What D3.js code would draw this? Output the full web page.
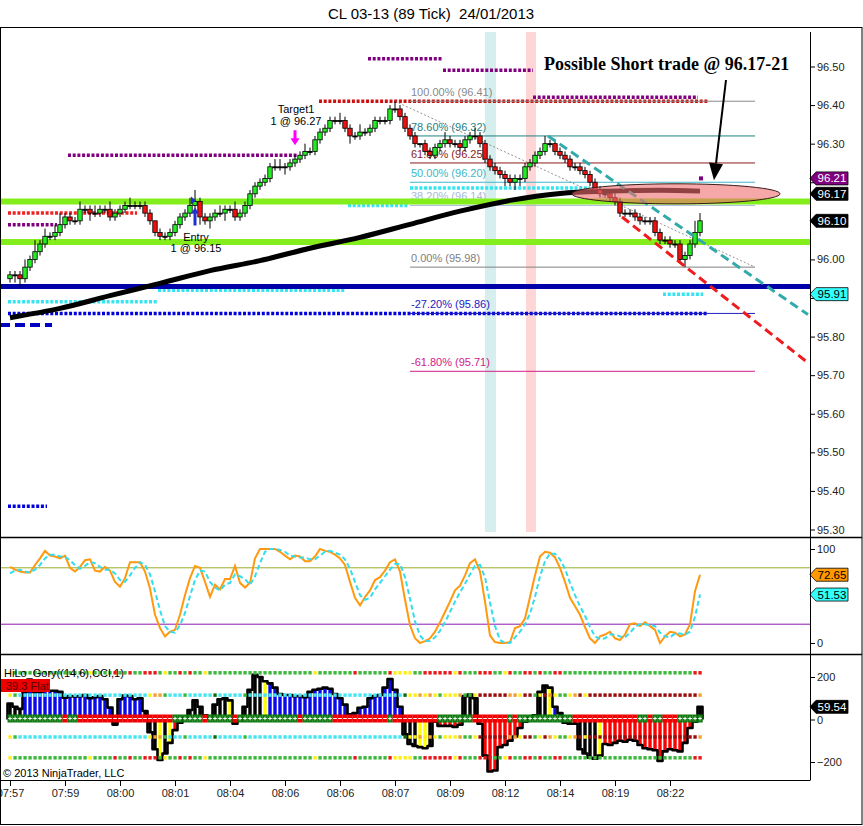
<!DOCTYPE html>
<html>
<head>
<meta charset="utf-8">
<script src="https://cdnjs.cloudflare.com/ajax/libs/d3/7.8.5/d3.min.js"></script>
<style>
  body { margin: 0; background: #fff; }
  svg { display: block; font-family: "Liberation Sans", Arial, sans-serif; }
</style>
</head>
<body>
<svg id="chart"></svg>
<script>
// ---- data ----
// closes per 89-tick bar (open = previous close)
const firstOpen = 95.95;
const closes = [
  95.96,95.96,95.95,95.98,96.00,96.02,96.04,96.06,96.06,96.07,
  96.09,96.11,96.10,96.10,96.13,96.13,96.12,96.12,96.13,96.13,
  96.11,96.12,96.13,96.14,96.14,96.14,96.14,96.12,96.10,96.07,
  96.06,96.06,96.07,96.09,96.11,96.12,96.14,96.15,96.11,96.10,
  96.11,96.12,96.12,96.13,96.13,96.11,96.12,96.14,96.17,96.19,
  96.20,96.21,96.24,96.24,96.24,96.24,96.25,96.26,96.27,96.28,
  96.28,96.31,96.33,96.34,96.36,96.36,96.36,96.34,96.32,96.32,
  96.33,96.33,96.34,96.36,96.36,96.36,96.39,96.39,96.37,96.34,
  96.32,96.30,96.30,96.28,96.27,96.29,96.30,96.31,96.30,96.30,
  96.29,96.31,96.32,96.32,96.30,96.26,96.24,96.23,96.22,96.21,
  96.20,96.21,96.21,96.24,96.25,96.27,96.28,96.30,96.30,96.28,
  96.27,96.26,96.24,96.24,96.23,96.22,96.20,96.18,96.17,96.17,
  96.16,96.15,96.12,96.12,96.12,96.11,96.10,96.10,96.10,96.07,
  96.05,96.05,96.04,96.04,96.00,96.01,96.04,96.07,96.10
];
// wick lengths in ticks (0.01) above / below the body
const wickUp = [
  1,1,1,2,1,3,1,2,1,2, 3,1,1,1,2,1,1,2,1,1, 2,1,1,1,2,1,1,1,1,0,
  1,1,1,1,1,1,2,3,1,1, 1,1,2,1,1,2,1,1,1,1, 1,1,1,2,2,1,1,1,1,2,
  1,1,1,1,1,1,2,1,1,1, 2,1,1,1,1,1,1,2,1,1, 1,1,0,1,1,1,1,2,1,1,
  1,1,1,2,1,1,1,1,1,1, 1,1,1,1,1,1,1,2,1,1, 1,1,1,1,1,1,1,1,1,1,
  1,2,1,1,1,1,1,1,1,1, 1,1,1,1,1,1,1,3,2
];
const wickDn = [
  1,2,2,1,1,1,1,1,1,1, 1,1,1,1,1,1,2,1,1,1, 1,1,1,1,1,1,1,1,1,1,
  1,1,1,1,1,1,1,1,2,1, 2,1,1,2,1,1,1,1,1,1, 1,1,1,1,1,2,1,1,1,1,
  1,1,1,1,1,1,1,1,2,1, 1,1,1,1,1,1,1,1,1,1, 1,1,1,1,1,1,1,1,1,1,
  1,1,1,1,1,1,1,1,1,2, 1,2,2,1,1,1,1,1,1,1, 1,1,1,1,1,1,1,1,1,1,
  1,1,1,1,1,1,1,1,1,1, 1,1,1,1,1,2,1,1,1
];
// moving average (black line) knots
const maBars = [0,10,20,30,40,50,60,70,80,90,100,110,120,130,138];
const maValues = [95.849,95.873,95.906,95.938,95.971,95.997,96.029,96.057,96.091,96.125,96.153,96.171,96.177,96.179,96.177];

const timeTickBars = [0,11,22,33,44,55,66,77,88,99,110,121,132];
const timeLabels = ["07:57","07:59","08:00","08:01","08:04","08:06","08:06","08:07","08:09","08:12","08:14","08:19","08:22"];
const priceTicks = [95.3,95.4,95.5,95.6,95.7,95.8,95.9,96.0,96.1,96.2,96.3,96.4,96.5];

// stochastics
const stochK = [
  81,78,76,75,75,83,90,98,93,92, 90,93,80,76,81,88,89,77,76,81,
  77,65,60,69,86,86,86,76,58,30, 16,7,12,14,30,51,69,82,80,65,
  49,62,57,68,68,82,64,59,64,90, 100,100,100,100,97,93,89,93,92,87,
  87,92,100,98,97,94,90,83,65,48, 40,49,56,67,70,77,86,89,76,46,
  19,5,0,2,5,12,22,33,44,56, 61,72,85,89,76,44,8,1,0,0,
  1,16,18,26,49,72,92,97,96,91, 80,65,48,39,30,17,5,0,7,9,
  12,5,3,9,20,21,18,22,18,14, 0,7,12,11,7,9,20,55,72.65
];
const stochD = [
  74,77,78,76,75,78,83,90,94,94, 92,92,88,83,79,82,86,85,81,78,
  78,74,67,65,72,80,86,83,73,55, 35,18,12,11,19,32,50,67,77,76,
  65,59,56,62,64,73,71,68,62,71, 85,97,100,100,99,97,93,92,91,91,
  89,89,93,97,98,96,94,89,79,65, 51,46,48,57,64,71,78,84,84,70,
  47,23,8,2,2,6,13,22,33,44, 54,63,73,82,83,70,43,18,3,0,
  0,6,12,20,31,49,71,87,95,95, 89,79,64,51,39,29,17,7,4,5,
  9,9,7,6,11,17,20,20,19,18, 11,7,6,10,10,9,12,28,51.53
];
const stochLevels = [80, 20];

// CCI histogram
const cciValues = [
  75,60,50,130,135,130,130,135,135,135, 130,103,110,108,110,115,100,105,110,95,
  56,-24,95,113,110,95,100,40,-60,-140, -190,-160,-110,-50,-15,10,45,90,60,20,
  5,70,95,100,90,-20,-5,60,140,210, 200,180,170,150,120,115,115,110,110,105,
  130,140,145,150,145,120,100,70,25,30, 55,60,100,110,115,150,190,140,60,-70,
  -115,-125,-130,-135,-125,-10,-30,-30,-30,-35, -25,110,118,100,-20,-170,-245,-240,-130,-120,
  -100,-80,-40,-10,10,20,130,160,150,60, 30,-15,-20,-20,-140,-160,-180,-185,-170,-115,
  -120,-110,-100,-105,-95,-100,-120,-135,-140,-145, -195,-150,-140,-145,-150,-110,-40,-10,59.54
];
const cciColors = ("kkkbbbbbbb" + "bbbbbbbbbb" + "bkbbbbbkkk" + "ykyrrkkkkk" + "kkkkyrkkkk" +
  "kybbbbbbbb" + "bbbbbbbbbb" + "bbbbbbbbbk" + "kkyykrrrrr" + "rkkkrrrrrr" +
  "rrrkkkkkyb" + "kkkkkkkkyr" + "rrrrrrrrrr" + "rrrrrrrrk").split("");
const zeroBand = ("++++++++++" + "+-++------" + "----------" + "---++++++-" + "+++++-++++" +
  "++++++++-+" + "+++++-----" + "------+---" + "------++++" + "+++-------" +
  "+-++++++++" + "+++-------" + "------++-+" + "+---+++++").split("");
const dotLevels = [220, 115, -82, -180];
const dotRowOuter = ("yggggggggg" + "ggggggyggg" + "grggrggrrr" + "gyggrgrggy" + "gggggggggg" +
  "gggggggggg" + "gygggggggr" + "ggggggryyy" + "yggrrrrrry" + "rgggrrrggy" +
  "rggrrgrggr" + "rggggggggg" + "gggggggggg" + "gggggggrr").split("");
const dotRowInner = ("ygcccccccc" + "cccccccccc" + "ccccccccyo" + "ogcccgcccc" + "cdcccccgcc" +
  "cccccccccc" + "cccccccccc" + "cccccccccd" + "yyoyoygyyy" + "oggymmmmmm" +
  "ooymmgymoy" + "ggyomymmmm" + "mmmmmmmmmm" + "mmmmmmmmo").split("");

// dotted price levels: price, first bar, last bar, kind
const levelPrice = [96.12, 96.09, 96.27, 96.41, 96.52, 96.49, 96.42, 95.89, 95.92, 96.14, 96.185, 95.91, 95.86, 95.36];
const levelFrom  = [-0.4, -0.4, 11.6, 61.8, 71.6, 86.6, 104.6, -0.4, 29.6, 67.6, 80, 130.6, -0.4, -0.4];
const levelTo    = [25.4, 9.4, 57.4, 139.6, 86.6, 104.6, 137.6, 29.6, 67, 79.6, 116, 138.6, 139.6, 7.4];
const levelKind  = ["red","purple","purple","crimson","purple","purple","purple","cyan","cyan","cyan","cyan","cyan","blue","blue"];

// fibonacci tool
const fibPct   = ["100.00%","78.60%","61.80%","50.00%","38.20%","0.00%","-27.20%","-61.80%"];
const fibPrice = [96.41, 96.32, 96.25, 96.20, 96.14, 95.98, 95.86, 95.71];
const fibBars  = [80, 149];
const fibDiag  = [[77, 96.41], [149, 95.98]];

// solid horizontal lines
const limeLevels = [96.15, 96.045];
const blueLevel = 95.93;
const blueDash = { price: 95.83, to: 8.4 };

// trend lines, shading, annotations
const tealTrend = [[107.6, 96.32], [159.6, 95.857]];
const redTrend  = [[122.4, 96.11], [159.6, 95.732]];
const shadeBars = [[95, 97.2], [103.2, 105.2]];
const ellipseBars = [112.4, 154];
const ellipsePrices = [96.144, 96.196];
const arrowFrom = [143.2, 96.465], arrowTo = [140.8, 96.205];
const noteAt = [106.8, 96.49];
const noteText = "Possible Short trade @ 96.17-21";
const entry = { bar: 37, price: 96.15, label: "Entry", fill: "1 @ 96.15" };
const target = { bar: 57, price: 96.27, label: "Target1", fill: "1 @ 96.27" };
const purpleDot = [138.2, 96.21];

// right-axis value tags
const priceTags = [[96.21, "#800080", "#fff"], [96.17, "#000", "#fff"], [96.10, "#000", "#fff"], [95.91, "#33ffff", "#000"]];
const stochTags = [[72.65, "#ff9900", "#000"], [51.53, "#33ffff", "#000"]];
const cciTags = [[59.54, "#000", "#fff"]];

// ---- drawing ----
const W = 863, H = 826, plotR = 810;
const svg = d3.select("#chart").attr("width", W).attr("height", H);

const x = d3.scaleLinear().domain([0, closes.length - 1]).range([10, 700]);
const yP = d3.scaleLinear().domain([95.3, 96.5]).range([529.5, 66.5]);
const yS = d3.scaleLinear().domain([0, 100]).range([643, 549]);
const yC = d3.scaleLinear().domain([-200, 200]).range([762, 677]);

const defs = svg.append("defs");
[["clipMain", 28, 537], ["clipStoch", 538, 654], ["clipCci", 655, 780]].forEach(([id, t, b]) => {
  defs.append("clipPath").attr("id", id).append("rect")
    .attr("x", 1).attr("y", t).attr("width", plotR - 1).attr("height", b - t);
});

// title
svg.append("text")
  .attr("x", 431).attr("y", 19)
  .attr("text-anchor", "middle")
  .attr("font-size", 15)
  .style("white-space", "pre")
  .text("CL 03-13 (89 Tick)  24/01/2013");

// ---- price panel ----
const g = svg.append("g").attr("clip-path", "url(#clipMain)");

g.selectAll("rect.shade")
  .data(shadeBars)
  .join("rect")
  .attr("x", d => x(d[0])).attr("width", d => x(d[1]) - x(d[0]))
  .attr("y", 32).attr("height", 500)
  .attr("fill", (d, i) => i === 0 ? "#d6eeee" : "#ffd6d6");

const levelColor = { red: "#ee2020", purple: "#800080", crimson: "#cc1010", cyan: "#33e5f0", blue: "#0000dd" };
g.selectAll("line.lvl")
  .data(levelPrice)
  .join("line")
  .attr("x1", (d, i) => x(levelFrom[i])).attr("x2", (d, i) => x(levelTo[i]))
  .attr("y1", d => yP(d)).attr("y2", d => yP(d))
  .attr("stroke", (d, i) => levelColor[levelKind[i]])
  .attr("stroke-width", 3.5)
  .attr("stroke-dasharray", "3,1.7");

// fib lines + labels
const fibColors = ["#8a8a8a", "#1f8080", "#8b1a1a", "#40b8c8", "#a8b8d8", "#808080", "#2020c0", "#d0208a"];
g.selectAll("line.fib")
  .data(fibPrice)
  .join("line")
  .attr("x1", x(fibBars[0])).attr("x2", x(fibBars[1]))
  .attr("y1", d => yP(d)).attr("y2", d => yP(d))
  .attr("stroke", (d, i) => fibColors[i]).attr("stroke-width", 1);
g.selectAll("text.fib")
  .data(fibPrice)
  .join("text")
  .attr("x", x(fibBars[0]) + 1).attr("y", d => yP(d) - 5)
  .attr("font-size", 11)
  .attr("fill", (d, i) => fibColors[i])
  .text((d, i) => `${fibPct[i]} (${d.toFixed(2)})`);

g.append("line")
  .attr("x1", x(fibDiag[0][0])).attr("y1", yP(fibDiag[0][1]))
  .attr("x2", x(fibDiag[1][0])).attr("y2", yP(fibDiag[1][1]))
  .attr("stroke", "#777").attr("stroke-width", 0.8).attr("stroke-dasharray", "2,2");

// thick horizontal lines
g.selectAll("line.lime")
  .data(limeLevels)
  .join("line")
  .attr("x1", 0).attr("x2", plotR)
  .attr("y1", d => yP(d)).attr("y2", d => yP(d))
  .attr("stroke", "#84ee1c").attr("stroke-width", 6);
g.append("line")
  .attr("x1", 0).attr("x2", plotR)
  .attr("y1", yP(blueLevel)).attr("y2", yP(blueLevel))
  .attr("stroke", "#0000a8").attr("stroke-width", 5);
g.append("line")
  .attr("x1", 0).attr("x2", x(blueDash.to))
  .attr("y1", yP(blueDash.price)).attr("y2", yP(blueDash.price))
  .attr("stroke", "#0000c0").attr("stroke-width", 4).attr("stroke-dasharray", "10,5");

// moving average
g.append("path")
  .datum(maBars.map((b, i) => [b, maValues[i]]))
  .attr("fill", "none").attr("stroke", "#000").attr("stroke-width", 5)
  .attr("d", d3.line().x(d => x(d[0])).y(d => yP(d[1])).curve(d3.curveMonotoneX));

// candles
const candles = closes.map((c, i) => {
  const o = i === 0 ? firstOpen : closes[i - 1];
  return { i, o, c, h: Math.max(o, c) + wickUp[i] * 0.01, l: Math.min(o, c) - wickDn[i] * 0.01 };
});
g.selectAll("line.wick")
  .data(candles)
  .join("line")
  .attr("x1", d => x(d.i)).attr("x2", d => x(d.i))
  .attr("y1", d => yP(d.h)).attr("y2", d => yP(d.l))
  .attr("stroke", "#000").attr("stroke-width", 1);
g.selectAll("rect.body")
  .data(candles)
  .join("rect")
  .attr("x", d => x(d.i) - 2.2).attr("width", 4.4)
  .attr("y", d => yP(Math.max(d.o, d.c)))
  .attr("height", d => Math.max(1, Math.abs(yP(d.o) - yP(d.c))))
  .attr("fill", d => d.c > d.o ? "#22ee22" : d.c < d.o ? "#ee1111" : "#000")
  .attr("stroke", "#000").attr("stroke-width", 0.8);

// trend lines
[[tealTrend, "#33aaaa"], [redTrend, "#ee1c1c"]].forEach(([t, col]) => {
  g.append("line")
    .attr("x1", x(t[0][0])).attr("y1", yP(t[0][1]))
    .attr("x2", x(t[1][0])).attr("y2", yP(t[1][1]))
    .attr("stroke", col).attr("stroke-width", 3).attr("stroke-dasharray", "9,5");
});

// purple dot
g.append("rect")
  .attr("x", x(purpleDot[0]) - 2).attr("y", yP(purpleDot[1]) - 2)
  .attr("width", 4).attr("height", 4).attr("fill", "#800080");

// ellipse
g.append("ellipse")
  .attr("cx", (x(ellipseBars[0]) + x(ellipseBars[1])) / 2)
  .attr("cy", (yP(ellipsePrices[0]) + yP(ellipsePrices[1])) / 2)
  .attr("rx", (x(ellipseBars[1]) - x(ellipseBars[0])) / 2)
  .attr("ry", (yP(ellipsePrices[0]) - yP(ellipsePrices[1])) / 2)
  .attr("fill", "rgba(240,110,110,0.6)")
  .attr("stroke", "#3a1a1a").attr("stroke-width", 1);

// arrow
{
  const x1 = x(arrowFrom[0]), y1 = yP(arrowFrom[1]), x2 = x(arrowTo[0]), y2 = yP(arrowTo[1]);
  const a = Math.atan2(y2 - y1, x2 - x1), L = 17, Wd = 7;
  const bx = x2 - L * Math.cos(a), by = y2 - L * Math.sin(a);
  g.append("line").attr("x1", x1).attr("y1", y1).attr("x2", bx).attr("y2", by)
    .attr("stroke", "#000").attr("stroke-width", 2);
  g.append("path")
    .attr("d", `M${x2},${y2}L${bx + Wd * Math.sin(a)},${by - Wd * Math.cos(a)}L${bx - Wd * Math.sin(a)},${by + Wd * Math.cos(a)}Z`)
    .attr("fill", "#000");
}

// note
g.append("text")
  .attr("x", x(noteAt[0])).attr("y", yP(noteAt[1]))
  .attr("font-family", "'Liberation Serif', 'Times New Roman', serif")
  .attr("font-weight", "bold").attr("font-size", 18)
  .text(noteText);

// target marker
{
  const tx = x(target.bar), ty = yP(target.price);
  g.append("path")
    .attr("d", `M${tx - 1.5},${ty - 25}h3v8h3l-4.5,7l-4.5,-7h3z`)
    .attr("fill", "#ff00ff");
  g.append("text").attr("x", tx + 1).attr("y", ty - 42).attr("text-anchor", "middle").attr("font-size", 11).text(target.label);
  g.append("text").attr("x", tx + 1).attr("y", ty - 30).attr("text-anchor", "middle").attr("font-size", 11).text(target.fill);
}
// entry marker
{
  const ex = x(entry.bar), ey = yP(entry.price);
  g.append("path").attr("d", `M${ex - 4},${ey - 5}l5,4l-5,4z`).attr("fill", "#2030d0");
  g.append("path")
    .attr("d", `M${ex},${ey + 6}l4,6h-2.5v12h-3v-12h-2.5z`)
    .attr("fill", "#2030d0");
  g.append("text").attr("x", ex + 1).attr("y", ey + 39).attr("text-anchor", "middle").attr("font-size", 11).text(entry.label);
  g.append("text").attr("x", ex + 1).attr("y", ey + 50).attr("text-anchor", "middle").attr("font-size", 11).text(entry.fill);
}

// ---- stochastics panel ----
const gs = svg.append("g").attr("clip-path", "url(#clipStoch)");
gs.selectAll("line.lv")
  .data(stochLevels)
  .join("line")
  .attr("x1", 0).attr("x2", plotR)
  .attr("y1", d => yS(d)).attr("y2", d => yS(d))
  .attr("stroke", (d, i) => i === 0 ? "#9aab2a" : "#8a1ab0").attr("stroke-width", 1);
const sLine = d3.line().x((d, i) => x(i)).y(d => yS(d));
gs.append("path").datum(stochK)
  .attr("fill", "none").attr("stroke", "#ff9910").attr("stroke-width", 2).attr("d", sLine);
gs.append("path").datum(stochD)
  .attr("fill", "none").attr("stroke", "#33ddee").attr("stroke-width", 2)
  .attr("stroke-dasharray", "5,3").attr("d", sLine);

// ---- CCI panel ----
const gc = svg.append("g").attr("clip-path", "url(#clipCci)");
const cciFill = { b: "#0a0ae8", r: "#ff0000", y: "#ffff00", k: "#000" };
gc.selectAll("rect.cci")
  .data(cciValues)
  .join("rect")
  .attr("x", (d, i) => x(i) - 1.7).attr("width", 3.4)
  .attr("y", d => Math.min(yC(d), yC(0)))
  .attr("height", d => Math.abs(yC(d) - yC(0)))
  .attr("fill", (d, i) => cciFill[cciColors[i]]);
const stepPts = [[x(0) - 2.5, yC(0)]]
  .concat(cciValues.flatMap((v, i) => [[x(i) - 2.5, yC(v)], [x(i) + 2.5, yC(v)]]))
  .concat([[x(cciValues.length - 1) + 2.5, yC(0)]]);
gc.append("path").datum(stepPts)
  .attr("fill", "none").attr("stroke", "#000").attr("stroke-width", 2.6)
  .attr("stroke-linejoin", "round")
  .attr("d", d3.line());

// zero band
const z0 = yC(0) - 1;
gc.selectAll("rect.zb")
  .data(zeroBand)
  .join("rect")
  .attr("x", (d, i) => x(i) - 2.5).attr("width", 5.2)
  .attr("y", z0 - 4).attr("height", 8)
  .attr("fill", d => d === "+" ? "#127a12" : "#f00000");
gc.selectAll("path.zm")
  .data(zeroBand)
  .join("path")
  .attr("d", (d, i) => d === "+"
    ? `M${x(i) - 1.8},${z0}h3.6M${x(i)},${z0 - 1.8}v3.6`
    : `M${x(i) - 1.8},${z0}h3.6`)
  .attr("stroke", "#fff").attr("stroke-width", 1);

// colour dot rows
const dotFill = { g: "#3cb83c", y: "#ffee11", r: "#e81818", o: "#f0a030", c: "#44e6f2", m: "#9a0c0c", d: "#0b6b0b" };
dotLevels.forEach((lv, k) => {
  const row = (k === 0 || k === 3) ? dotRowOuter : dotRowInner;
  gc.selectAll(`rect.dot${k}`)
    .data(row)
    .join("rect")
    .attr("x", (d, i) => x(i) - 1.6).attr("y", yC(lv) - 1.7)
    .attr("width", 3.3).attr("height", 3.5)
    .attr("fill", d => dotFill[d]);
});

svg.append("text").attr("x", 4).attr("y", 677).attr("font-size", 11).text("HiLo_Gory((14,6),CCI,1)");
svg.append("rect").attr("x", 1).attr("y", 679).attr("width", 49).attr("height", 13).attr("fill", "#ee0000");
svg.append("text").attr("x", 6).attr("y", 690).attr("font-size", 11).attr("fill", "#5a0000").text("39.3 Flat");
svg.append("text").attr("x", 3).attr("y", 777).attr("font-size", 11).text("© 2013 NinjaTrader, LLC");

// ---- axes ----
function styleAxis(sel) {
  sel.select(".domain").remove();
  sel.attr("font-family", "'Liberation Sans', Arial, sans-serif").attr("font-size", 11);
  sel.selectAll("text").attr("fill", "#222");
  sel.selectAll("line").attr("stroke", "#000");
}
// tick labels sitting under a value tag are hidden, as in the platform
const tagYs = priceTags.map(t => yP(t[0]));
svg.append("g").attr("transform", `translate(${plotR},0)`)
  .call(d3.axisRight(yP).tickValues(priceTicks).tickFormat(d3.format(".2f")).tickSize(5).tickPadding(2))
  .call(styleAxis)
  .selectAll(".tick text")
  .filter(d => tagYs.some(ty => Math.abs(ty - yP(d)) < 10))
  .remove();
svg.append("g").attr("transform", `translate(${plotR},0)`)
  .call(d3.axisRight(yS).tickValues([0, 100]).tickSize(5).tickPadding(2))
  .call(styleAxis);
svg.append("g").attr("transform", `translate(${plotR},0)`)
  .call(d3.axisRight(yC).tickValues([-200, 0, 200]).tickSize(5).tickPadding(2))
  .call(styleAxis);
svg.append("g").attr("transform", "translate(0,780)")
  .call(d3.axisBottom(x).tickValues(timeTickBars).tickFormat((d, i) => timeLabels[i]).tickSize(6).tickPadding(3))
  .call(styleAxis);

// value tags on the right axis
function tags(list, scale) {
  list.forEach(([v, fill, col]) => {
    const y = scale(v);
    svg.append("path")
      .attr("d", `M${plotR},${y}L${plotR + 6},${y - 6.5}H${plotR + 38}V${y + 6.5}H${plotR + 6}Z`)
      .attr("fill", fill).attr("stroke", "#000").attr("stroke-width", 0.8);
    svg.append("text")
      .attr("x", plotR + 22).attr("y", y + 4)
      .attr("text-anchor", "middle").attr("font-size", 11.5).attr("fill", col)
      .text(v.toFixed(2));
  });
}
tags(priceTags, yP);
tags(stochTags, yS);
tags(cciTags, yC);

// ---- frames ----
const frame = svg.append("g").attr("stroke", "#000").attr("fill", "none");
frame.append("rect").attr("x", 0.5).attr("y", 27.5).attr("width", 861.5).attr("height", 797);
frame.append("line").attr("x1", 0).attr("x2", 862).attr("y1", 537.5).attr("y2", 537.5).attr("stroke-width", 1.5);
frame.append("line").attr("x1", 0).attr("x2", 862).attr("y1", 654.5).attr("y2", 654.5).attr("stroke-width", 1.5);
frame.append("line").attr("x1", 0).attr("x2", plotR).attr("y1", 780.5).attr("y2", 780.5);
frame.append("line").attr("x1", plotR + 0.5).attr("x2", plotR + 0.5).attr("y1", 32).attr("y2", 780.5);
</script>
</body>
</html>
